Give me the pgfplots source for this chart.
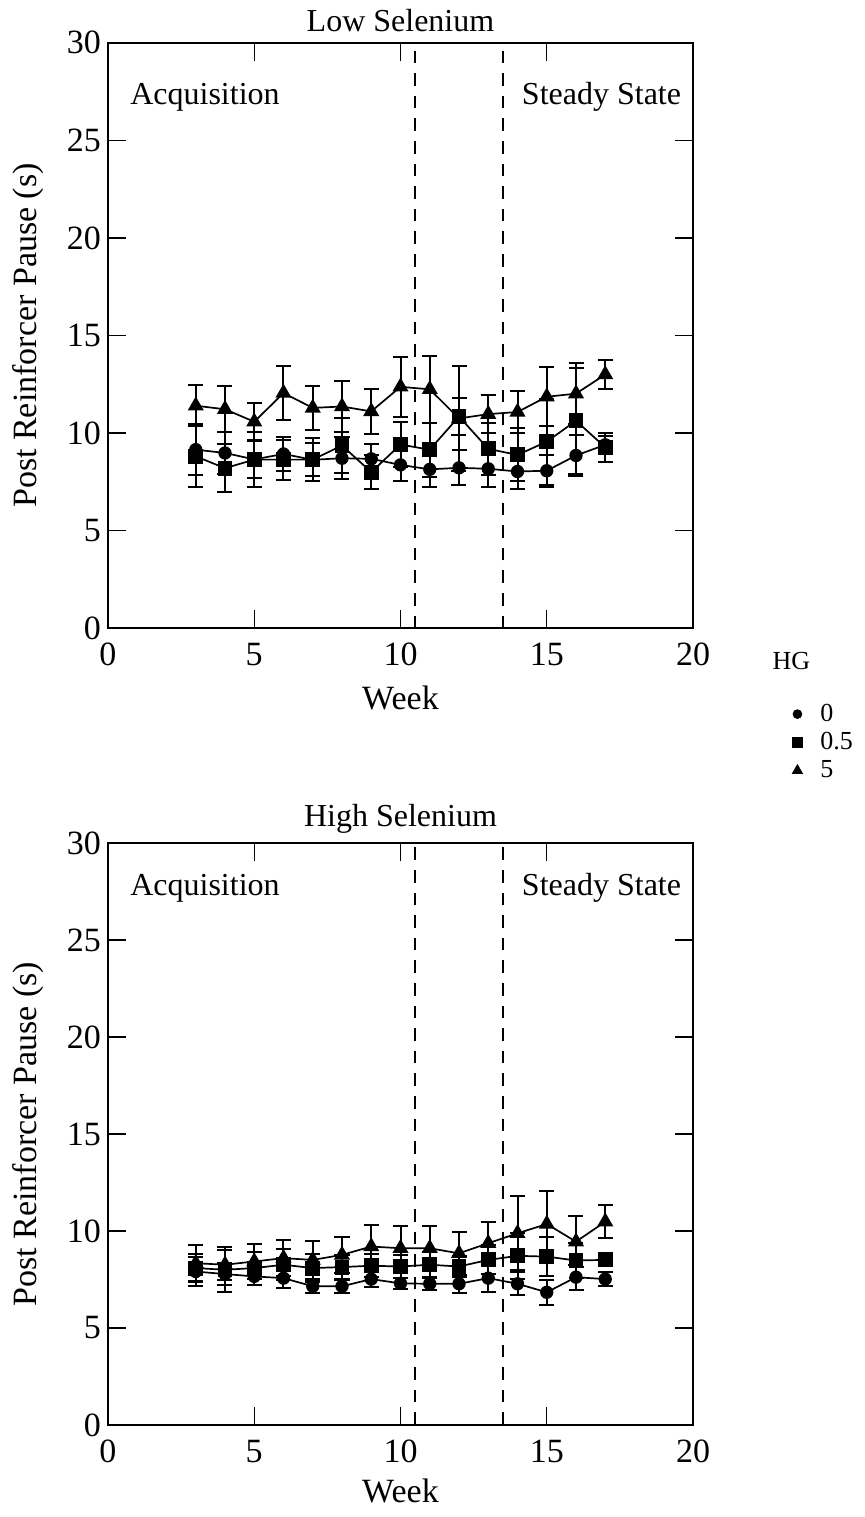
\documentclass[border=0pt]{standalone}
\usepackage{fontspec}
\setmainfont{Liberation Serif}
\usepackage{pgfplots}
\usepackage{pgfplotstable}
\pgfplotsset{compat=1.18}

% low selenium: week, mean, error
\pgfplotstableread{
x y e
3 9.15 1.30
4 8.98 1.10
5 8.65 0.95
6 8.93 0.88
7 8.63 1.10
8 8.71 1.08
9 8.68 0.76
10 8.37 0.84
11 8.14 0.90
12 8.22 0.90
13 8.17 0.93
14 8.03 0.88
15 8.07 0.82
16 8.85 1.05
17 9.40 0.45
}\lowA
\pgfplotstableread{
x y e
3 8.81 1.55
4 8.20 1.22
5 8.64 1.39
6 8.64 1.02
7 8.64 0.85
8 9.36 1.39
9 8.00 0.88
10 9.41 1.17
11 9.15 1.39
12 10.85 0.95
13 9.19 1.35
14 8.88 1.36
15 9.56 2.20
16 10.63 2.71
17 9.27 0.73
}\lowB
\pgfplotstableread{
x y e
3 11.40 1.05
4 11.22 1.19
5 10.58 0.95
6 12.05 1.39
7 11.29 1.13
8 11.36 1.32
9 11.11 1.16
10 12.37 1.53
11 12.24 1.70
12 10.75 2.68
13 10.97 0.96
14 11.08 1.07
15 11.86 1.50
16 12.02 1.57
17 13.00 0.73
}\lowC

% high selenium
\pgfplotstableread{
x y e
3 7.91 0.76
4 7.78 0.55
5 7.66 0.45
6 7.57 0.50
7 7.15 0.35
8 7.15 0.35
9 7.52 0.40
10 7.30 0.30
11 7.28 0.30
12 7.28 0.45
13 7.57 0.73
14 7.28 0.60
15 6.84 0.63
16 7.62 0.65
17 7.52 0.35
}\highA
\pgfplotstableread{
x y e
3 8.09 0.70
4 8.00 1.16
5 8.09 0.85
6 8.26 0.80
7 8.09 0.70
8 8.14 0.62
9 8.21 0.60
10 8.17 0.60
11 8.26 0.65
12 8.17 0.55
13 8.51 0.75
14 8.72 1.20
15 8.68 1.00
16 8.48 0.90
17 8.51 0.30
}\highB
\pgfplotstableread{
x y e
3 8.34 0.94
4 8.26 0.77
5 8.43 0.90
6 8.60 0.94
7 8.51 0.98
8 8.77 0.91
9 9.20 1.11
10 9.11 1.16
11 9.11 1.15
12 8.85 1.10
13 9.37 1.07
14 9.88 1.91
15 10.36 1.71
16 9.45 1.32
17 10.48 0.84
}\highC

\pgfplotsset{
  selplot/.style={
    scale only axis, width=292.5pt,
    xmin=0, xmax=20, ymin=0, ymax=30,
    xtick={0,5,10,15,20}, ytick={0,5,...,30},
    tick align=inside, major tick length=9pt,
    axis line style={line width=0.8pt},
    tick style={line width=0.7pt, black},
    clip=false,
    /pgf/number format/assume math mode=true,
    ticklabel style={font=\fontsize{17}{19}\selectfont},
    xticklabel style={yshift=-4pt},
    label style={font=\fontsize{17}{19}\selectfont},
    title style={font=\fontsize{16}{18}\selectfont, anchor=base,
      at={(axis description cs:0.5,1)}, yshift=-0.5pt},
    xlabel={Week}, ylabel={Post Reinforcer Pause (s)},
    ylabel style={at={(axis description cs:-0.137,0.5)}, anchor=center},
  },
  series/.style={black, line width=0.85pt, mark options={solid, fill=black},
    error bars/y dir=both, error bars/y explicit,
    error bars/error bar style={line width=1pt},
    error bars/error mark options={rotate=90, mark size=3.75pt, line width=1pt}},
}
\tikzset{
  note/.style={font=\fontsize{16}{18}\selectfont, anchor=base west, inner sep=0pt},
  phase/.style={dash pattern=on 6.3pt off 5pt, line width=0.9pt},
}

\begin{document}
\begin{tikzpicture}[x=1pt,y=1pt]
\path[use as bounding box] (-54,-46) rectangle (378,712.5);

\begin{axis}[selplot, height=292.75pt, at={(0,408.25)}, anchor=south west,
  title={Low Selenium},
  xlabel style={at={(axis description cs:0.5,-0.119)}, anchor=center},
  legend style={at={(axis description cs:1.159,-0.115)}, anchor=north west,
    draw=none, fill=none, font=\fontsize{13}{15}\selectfont, row sep=0pt,
    /tikz/every odd column/.append style={column sep=7pt}},
  legend cell align=left]
\addplot[series, mark=*, mark size=2.9pt, forget plot] table[x=x, y=y, y error=e] {\lowA};
\addplot[series, mark=square*, mark size=3.3pt, forget plot] table[x=x, y=y, y error=e] {\lowB};
\addplot[series, mark=triangle*, mark size=3.8pt, forget plot] table[x=x, y=y, y error=e] {\lowC};
\draw[phase] (axis cs:10.5,0) -- (axis cs:10.5,30);
\draw[phase] (axis cs:13.5,0) -- (axis cs:13.5,30);
\node[note] at (axis cs:0.75,26.82) {Acquisition};
\node[note] at (axis cs:14.14,26.82) {Steady State};
\node[font=\fontsize{13}{15}\selectfont] at (axis description cs:1.168,-0.056) {HG};
\addlegendimage{only marks, black, mark=*, mark size=2.2pt}
\addlegendentry{0}
\addlegendimage{only marks, black, mark=square*, mark size=2.5pt}
\addlegendentry{0.5}
\addlegendimage{only marks, black, mark=triangle*, mark size=2.9pt}
\addlegendentry{5}
\end{axis}

\begin{axis}[selplot, height=291pt, at={(0,0)}, anchor=south west,
  title={High Selenium}, title style={yshift=3pt},
  xlabel style={at={(axis description cs:0.5,-0.113)}, anchor=center}]
\addplot[series, mark=*, mark size=2.9pt] table[x=x, y=y, y error=e] {\highA};
\addplot[series, mark=square*, mark size=3.3pt] table[x=x, y=y, y error=e] {\highB};
\addplot[series, mark=triangle*, mark size=3.8pt] table[x=x, y=y, y error=e] {\highC};
\draw[phase] (axis cs:10.5,0) -- (axis cs:10.5,30);
\draw[phase] (axis cs:13.5,0) -- (axis cs:13.5,30);
\node[note] at (axis cs:0.75,27.27) {Acquisition};
\node[note] at (axis cs:14.14,27.27) {Steady State};
\end{axis}
\end{tikzpicture}
\end{document}
